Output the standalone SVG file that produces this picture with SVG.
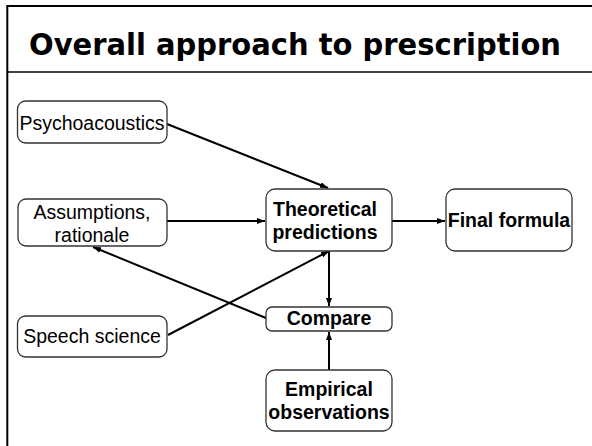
<svg xmlns="http://www.w3.org/2000/svg" width="592" height="446" viewBox="0 0 592 446">
  <style>
    .frame { fill: none; stroke: #000; stroke-width: 2; }
    .rule { stroke: #000; stroke-width: 1.5; }
    .title { font-family: "DejaVu Sans", "Liberation Sans", sans-serif; font-weight: bold; font-size: 30px; fill: #000; }
    .box { fill: #fff; stroke: #333; stroke-width: 1.3; }
    .lbl { font-family: "Liberation Sans", Arial, sans-serif; font-size: 19.5px; fill: #000; text-anchor: middle; }
    .bold { font-weight: bold; }
    .edge { fill: none; stroke: #000; stroke-width: 2; marker-end: url(#head); }
  </style>
  <defs>
    <marker id="head" markerUnits="userSpaceOnUse" markerWidth="9" markerHeight="7" refX="8" refY="3" orient="auto">
      <path d="M0,0 L8,3 L0,6 z" fill="#000"/>
    </marker>
  </defs>

  <rect width="592" height="446" fill="#fff"/>

  <!-- slide frame and title bar -->
  <g id="frame">
    <path class="frame" d="M7.3,446 V6 H592"/>
    <line class="rule" x1="7" y1="72" x2="592" y2="72"/>
    <text class="title" x="29" y="55" textLength="532" lengthAdjust="spacingAndGlyphs">Overall approach to prescription</text>
  </g>

  <!-- connectors -->
  <g id="connectors">
    <line class="edge" x1="167" y1="124" x2="328" y2="188"/>
    <line class="edge" x1="167" y1="221" x2="265" y2="221"/>
    <line class="edge" x1="392" y1="221" x2="445" y2="221"/>
    <line class="edge" x1="168" y1="335" x2="329" y2="251"/>
    <line class="edge" x1="266" y1="318" x2="93" y2="247"/>
    <line class="edge" x1="329" y1="251" x2="329" y2="306"/>
    <line class="edge" x1="329" y1="370" x2="329" y2="332"/>
  </g>

  <g id="psychoacoustics">
    <rect class="box" x="17.5" y="101" width="149.5" height="42" rx="8"/>
    <text class="lbl" x="92" y="130">Psychoacoustics</text>
  </g>

  <g id="assumptions">
    <rect class="box" x="18" y="199" width="149" height="47" rx="8"/>
    <text class="lbl" x="92" y="219">Assumptions,</text>
    <text class="lbl" x="92" y="242">rationale</text>
  </g>

  <g id="speech-science">
    <rect class="box" x="17.5" y="316" width="149.5" height="41" rx="8"/>
    <text class="lbl" x="92" y="343">Speech science</text>
  </g>

  <g id="theoretical-predictions">
    <rect class="box" x="266" y="189" width="126" height="62" rx="9"/>
    <text class="lbl bold" x="325" y="216">Theoretical</text>
    <text class="lbl bold" x="325" y="239">predictions</text>
  </g>

  <g id="final-formula">
    <rect class="box" x="446" y="189" width="126" height="62" rx="9"/>
    <text class="lbl bold" x="509" y="227">Final formula</text>
  </g>

  <g id="compare">
    <rect class="box" x="266" y="307" width="126" height="24" rx="6"/>
    <text class="lbl bold" x="329" y="325">Compare</text>
  </g>

  <g id="empirical-observations">
    <rect class="box" x="266" y="370" width="126" height="61" rx="9"/>
    <text class="lbl bold" x="329" y="396">Empirical</text>
    <text class="lbl bold" x="329" y="419">observations</text>
  </g>
</svg>
